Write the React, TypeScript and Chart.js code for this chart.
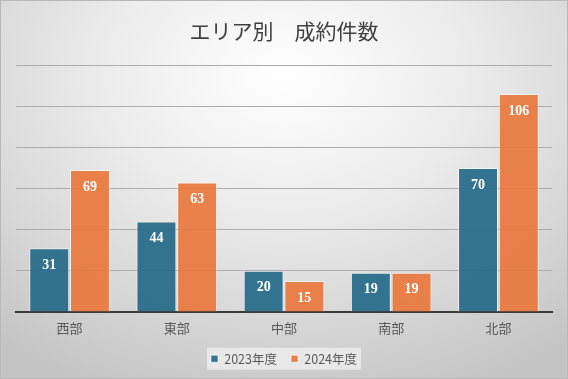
import React, { useEffect, useRef } from "react";
import { Chart, registerables } from "chart.js";

Chart.register(...registerables);

const categories = ["西部", "東部", "中部", "南部", "北部"];
const series2023 = [31, 44, 20, 19, 70];
const series2024 = [69, 63, 15, 19, 106];
const seriesNames = ["2023年度", "2024年度"];
const chartTitle = "エリア別　成約件数";

const BLUE = "rgba(39,106,137,0.93)";
const ORANGE = "rgba(234,120,62,0.93)";

const dataLabelPlugin = {
  id: "dataLabels",
  afterDatasetsDraw(chart: any) {
    const ctx = chart.ctx;
    ctx.save();
    ctx.fillStyle = "#ffffff";
    ctx.font = "bold 14px 'Liberation Serif', 'DejaVu Serif', serif";
    ctx.textAlign = "center";
    ctx.textBaseline = "middle";
    chart.data.datasets.forEach((ds: any, i: number) => {
      const meta = chart.getDatasetMeta(i);
      meta.data.forEach((bar: any, j: number) => {
        ctx.fillText(String(ds.data[j]), bar.x, bar.y + 17);
      });
    });
    ctx.restore();
  },
};

const legendBgPlugin = {
  id: "legendBg",
  beforeDraw(chart: any) {
    const lg = chart.legend;
    if (!lg || !lg.legendItems || !lg.legendHitBoxes) return;
    const boxes = lg.legendHitBoxes;
    if (!boxes.length) return;
    const ctx = chart.ctx;
    ctx.save();
    ctx.fillStyle = "rgba(240,240,240,0.75)";
    const w = 154;
    const cx = (lg.left + lg.right) / 2;
    const cy = boxes[0].top + boxes[0].height / 2;
    ctx.fillRect(cx - w / 2, cy - 11, w, 22);
    ctx.restore();
  },
};

export default function App() {
  const ref = useRef<HTMLCanvasElement>(null);
  useEffect(() => {
    const chart = new Chart(ref.current!, {
      type: "bar",
      data: {
        labels: categories,
        datasets: [
          {
            label: seriesNames[0],
            data: series2023,
            backgroundColor: BLUE,
            borderColor: "rgba(255,255,255,0.6)",
            borderWidth: 1,
            categoryPercentage: 0.76,
            barPercentage: 0.98,
          },
          {
            label: seriesNames[1],
            data: series2024,
            backgroundColor: ORANGE,
            borderColor: "rgba(255,255,255,0.6)",
            borderWidth: 1,
            categoryPercentage: 0.76,
            barPercentage: 0.98,
          },
        ],
      },
      options: {
        animation: false,
        responsive: false,
        layout: { padding: { left: 15, right: 15, top: 0, bottom: 3 } },
        plugins: {
          title: {
            display: true,
            text: chartTitle,
            color: "#404040",
            font: { family: "'Noto Sans CJK JP', sans-serif", size: 21, weight: "normal" },
            padding: { top: 17, bottom: 22 },
          },
          legend: {
            position: "bottom",
            labels: {
              color: "#595959",
              font: { family: "'Noto Sans CJK JP', sans-serif", size: 12.5 },
              usePointStyle: true,
              pointStyle: "rect",
              boxWidth: 7,
              boxHeight: 7,
              padding: 14,
            },
          },
          tooltip: { enabled: false },
        },
        scales: {
          x: {
            grid: { display: false },
            border: { display: true, color: "#3a3a3a", width: 2 },
            ticks: {
              color: "#595959",
              font: { family: "'Noto Sans CJK JP', serif", size: 13 },
              padding: 0,
            },
            afterFit: (s: any) => {
              s.height += 3;
            },
          },
          y: {
            min: 0,
            max: 120,
            ticks: { display: false, stepSize: 20 },
            grid: { color: "#acacac", lineWidth: 1, drawTicks: false },
            border: { display: false },
          },
        },
      },
      plugins: [legendBgPlugin, dataLabelPlugin],
    });
    return () => chart.destroy();
  }, []);
  return (
    <div
      style={{
        position: "fixed",
        left: 0,
        top: 0,
        width: 568,
        height: 379,
        boxSizing: "border-box",
        border: "1px solid #b8b8b8",
        background:
          "radial-gradient(ellipse 80% 90% at 50% 20%, #ffffff 0%, #ececec 40%, #d2d2d2 80%, #c4c4c4 100%)",
      }}
    >
      <canvas ref={ref} width={566} height={377} style={{ display: "block" }} />
    </div>
  );
}
